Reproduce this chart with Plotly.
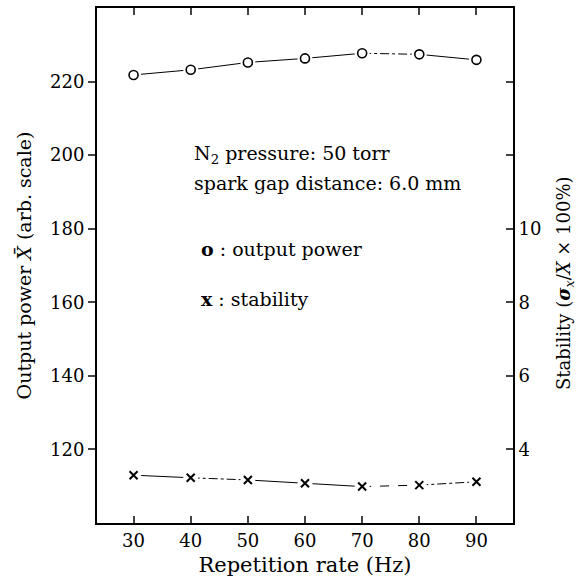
import plotly.graph_objects as go

rate_hz = [30, 40, 50, 60, 70, 80, 90]
output_power = [221.8, 223.2, 225.2, 226.3, 227.7, 227.4, 225.9]
stability_pct = [3.30, 3.23, 3.17, 3.08, 2.99, 3.03, 3.12]

left_ticks = [120, 140, 160, 180, 200, 220]
right_ticks = [4, 6, 8, 10, 12, 14]
right_ticktext = ["4", "6", "8", "10", "", ""]
x_ticks = [30, 40, 50, 60, 70, 80, 90]

FONT = "DejaVu Serif"
upper_dash = ["solid", "solid", "solid", "solid", "dashdot", "solid"]
lower_dash = ["solid", "dashdot", "solid", "solid", "dash", "dashdot"]

fig = go.Figure()


def add_series(xs, ys, dashes, yaxis, symbol, msize, mlw):
    for i in range(len(xs) - 1):
        fig.add_trace(go.Scatter(x=xs[i:i + 2], y=ys[i:i + 2], mode="lines",
                                 line=dict(color="black", width=1, dash=dashes[i]),
                                 yaxis=yaxis, showlegend=False, hoverinfo="skip"))
    # white halo to leave gaps around markers
    fig.add_trace(go.Scatter(x=xs, y=ys, mode="markers", yaxis=yaxis,
                             marker=dict(symbol="circle", size=15, color="white",
                                         line=dict(width=0)),
                             showlegend=False, hoverinfo="skip"))
    fig.add_trace(go.Scatter(x=xs, y=ys, mode="markers", yaxis=yaxis,
                             marker=dict(symbol=symbol, size=msize, color="white",
                                         line=dict(color="black", width=mlw)),
                             showlegend=False))


add_series(rate_hz, output_power, upper_dash, "y", "circle", 9, 1.6)
add_series(rate_hz, stability_pct, lower_dash, "y2", "x-thin", 8, 2)

fig.update_layout(
    width=587, height=587,
    margin=dict(l=97, r=74, t=6, b=64),
    paper_bgcolor="white", plot_bgcolor="white",
    font=dict(family=FONT, size=18, color="black"),
    xaxis=dict(range=[23.6, 96.4], tickvals=x_ticks, ticks="inside", ticklen=7,
               tickwidth=1.5, showline=True, linewidth=2, linecolor="black",
               mirror="ticks", showgrid=False, zeroline=False,
               tickfont=dict(size=18),
               title=dict(text="Repetition rate (Hz)", font=dict(size=21), standoff=8)),
    yaxis=dict(range=[100, 240], tickvals=left_ticks, ticks="outside", ticklen=7,
               tickwidth=1.5, showline=True, linewidth=2, linecolor="black",
               showgrid=False, zeroline=False, tickfont=dict(size=18),
               title=dict(text="Output power <i>X\u0304</i> (arb. scale)", font=dict(size=19), standoff=13)),
    yaxis2=dict(range=[2, 16], tickvals=right_ticks, ticktext=right_ticktext,
                overlaying="y", side="right", ticks="inside", ticklen=7,
                tickwidth=1.5, showline=True, linewidth=2, linecolor="black",
                showgrid=False, zeroline=False, tickfont=dict(size=18)),
)

# right axis title, placed lower as in the reference
fig.add_annotation(text="Stability (<b><i>σ</i></b><sub><i>x</i></sub>/<i>X</i> × 100%)",
                   x=1.125, y=0.466, xref="paper", yref="paper", textangle=-90,
                   xanchor="center", yanchor="middle", showarrow=False,
                   font=dict(family=FONT, size=18, color="black"))

ann = [
    ("N<sub>2</sub> pressure: 50 torr", 0.228, 0.715),
    ("spark gap distance: 6.0 mm", 0.228, 0.66),
    ("<b>o</b> : output power", 0.245, 0.533),
    ("<b>x</b> : stability", 0.245, 0.435),
]
for text, ax, ay in ann:
    fig.add_annotation(text=text, x=ax, y=ay, xref="paper", yref="paper",
                       xanchor="left", yanchor="middle", showarrow=False,
                       font=dict(family=FONT, size=19, color="black"))

fig.write_html("out.html")
